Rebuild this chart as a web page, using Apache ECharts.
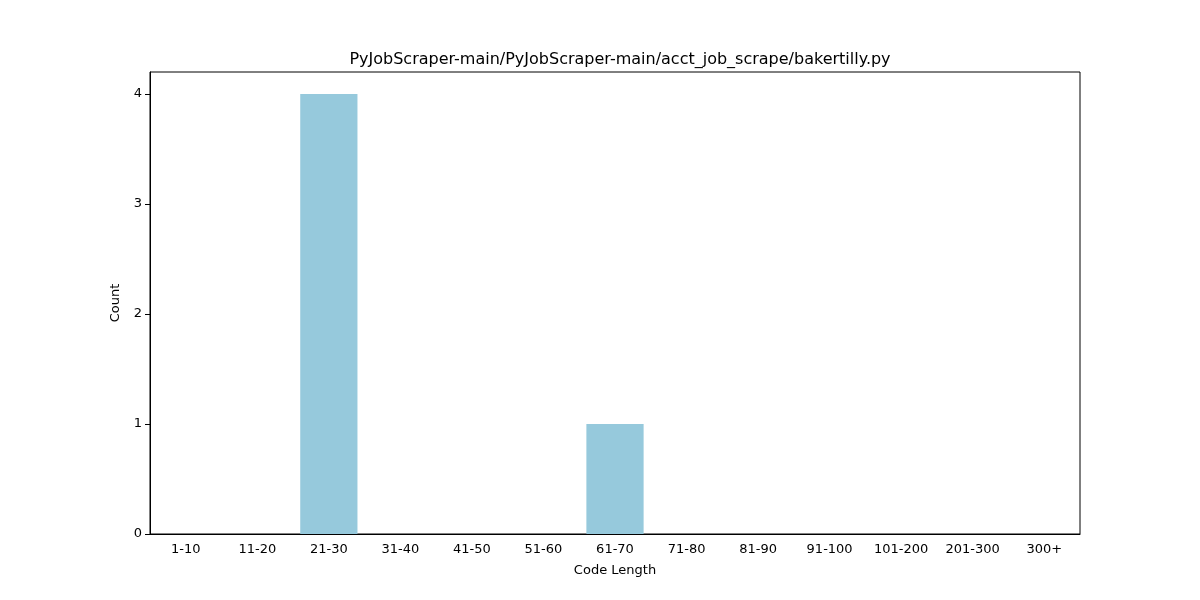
<!DOCTYPE html>
<html>
<head>
<meta charset="utf-8">
<script src="https://cdn.jsdelivr.net/npm/echarts@6/dist/echarts.min.js"></script>
<style>html,body{margin:0;padding:0;background:#fff}#chart{width:1200px;height:600px}</style>
</head>
<body>
<div id="chart"></div>
<script>
const categories = ['1-10', '11-20', '21-30', '31-40', '41-50', '51-60', '61-70', '71-80', '81-90', '91-100', '101-200', '201-300', '300+']
const counts = [0, 0, 4, 0, 0, 0, 1, 0, 0, 0, 0, 0, 0]
const titleText = 'PyJobScraper-main/PyJobScraper-main/acct_job_scrape/bakertilly.py'

const font = 'DejaVu Sans'
const chart = echarts.init(document.getElementById('chart'))
chart.setOption({
  animation: false,
  textStyle: { fontFamily: font },
  title: {
    text: titleText,
    left: 615,
    top: 47,
    textAlign: 'center',
    textStyle: { fontFamily: font, fontSize: 16, fontWeight: 'normal', color: '#000' }
  },
  grid: { left: 150, right: 120, top: 72, bottom: 66, show: true, borderColor: '#000', borderWidth: 1 },
  xAxis: {
    type: 'category',
    data: categories,
    name: 'Code Length',
    nameLocation: 'middle',
    nameGap: 30,
    nameTextStyle: { fontFamily: font, fontSize: 13, color: '#000' },
    axisLine: { lineStyle: { color: '#000' } },
    axisTick: { alignWithLabel: true, length: 5, inside: false, lineStyle: { color: '#000' } },
    axisLabel: { color: '#000', fontSize: 13, margin: 9, interval: 0 }
  },
  yAxis: {
    type: 'value',
    min: 0,
    max: 4.2,
    interval: 1,
    name: 'Count',
    nameLocation: 'middle',
    nameGap: 28,
    nameTextStyle: { fontFamily: font, fontSize: 13, color: '#000' },
    splitLine: { show: false },
    axisLine: { show: true, lineStyle: { color: '#000' } },
    axisTick: { show: true, length: 5, lineStyle: { color: '#000' } },
    axisLabel: { color: '#000', fontSize: 13, margin: 8, showMaxLabel: false }
  },
  series: [{
    type: 'bar',
    data: counts,
    barWidth: '80%',
    itemStyle: { color: '#96c9dc' }
  }]
})
</script>
</body>
</html>
